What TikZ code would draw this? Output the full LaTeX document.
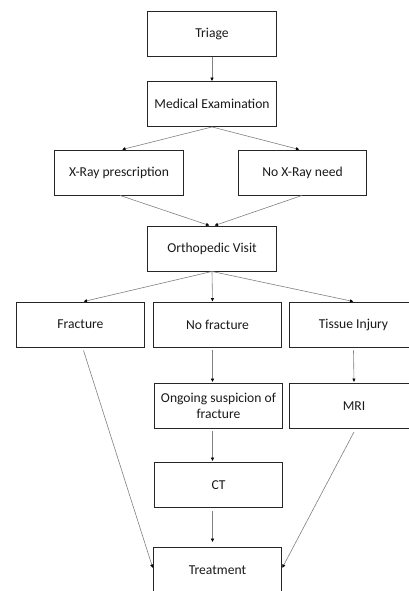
\documentclass[tikz,border=0pt]{standalone}
\usepackage{fontspec}
\setmainfont{Carlito}
\usetikzlibrary{arrows.meta,calc}
\begin{document}
\begin{tikzpicture}[x=1pt,y=-1pt,
  box/.style={draw=black!85,line width=0.9pt,minimum width=128.5pt,minimum height=45pt,inner sep=2pt,align=center,font=\fontsize{13.6}{16}\selectfont,text=black!90},
  conn/.style={draw=black!50,line width=0.6pt,-{Latex[length=3.5pt,width=3.5pt,black]}},
  line/.style={draw=black!50,line width=0.6pt}]
\useasboundingbox (0,0) rectangle (409,591);
\node[box] (triage) at (212,34) {Triage};
\node[box] (med) at (212,104) {Medical Examination};
\node[box] (xray) at (119,172.5) {X-Ray prescription};
\node[box] (noxray) at (302.5,172.5) {No X-Ray need};
\node[box] (orth) at (212,248.5) {Orthopedic Visit};
\node[box] (frac) at (80.5,324.5) {Fracture};
\node[box] (nofrac) at (217.5,324.5) {No fracture};
\node[box] (tissue) at (353.5,324.5) {Tissue Injury};
\node[box] (ongo) at (218.5,406) {Ongoing suspicion of\\fracture};
\node[box] (mri) at (354,406) {MRI};
\node[box] (ct) at (218.5,485) {CT};
\node[box] (treat) at (217.5,570) {Treatment};
\draw[conn] (triage.south) -- (med.north);
\draw[conn] (med.south) -- ($(xray.north)+(3,0)$);
\draw[conn] (med.south) -- ($(noxray.north)+(-3,0)$);
\draw[conn] ($(xray.south)+(1,0)$) -- ($(orth.north)+(-2.5,0)$);
\draw[conn] ($(noxray.south)+(-0.5,0)$) -- ($(orth.north)+(2.5,0)$);
\draw[conn] (orth.south) -- ($(frac.north)+(3,0)$);
\draw[conn] (orth.south) -- ($(nofrac.north)+(-5,0)$);
\draw[conn] (orth.south) -- ($(tissue.north)+(0,0)$);
\draw[conn] ($(nofrac.south)+(-5,3)$) -- ($(ongo.north)+(-6,-1)$);
\draw[conn] ($(tissue.south)+(0,3)$) -- ($(mri.north)+(0,-1)$);
\draw[conn] ($(ongo.south)+(-6,2)$) -- ($(ct.north)+(-6,-1)$);
\draw[conn] ($(ct.south)+(-6,3)$) -- ($(treat.north)+(-5,-5)$);
\draw[conn] ($(frac.south)+(3,3)$) -- ($(treat.west)+(0,-2)$);
\draw[conn] ($(mri.south)+(0,3)$) -- ($(treat.east)+(0,-2)$);
\end{tikzpicture}
\end{document}
